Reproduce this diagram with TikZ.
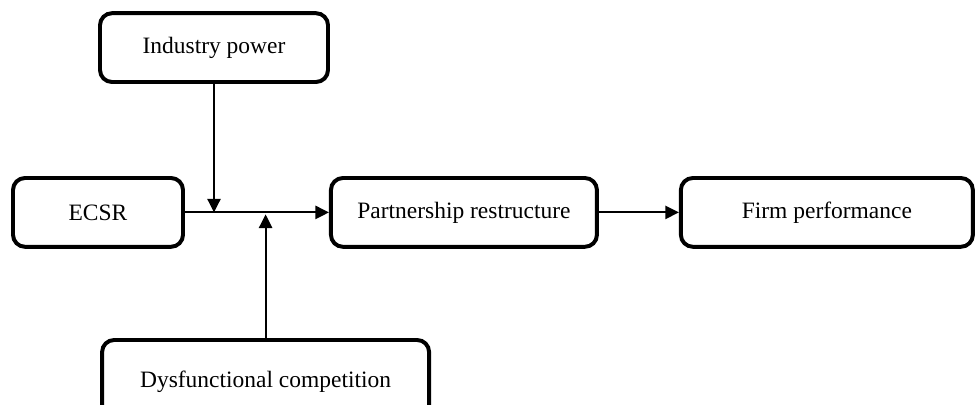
\documentclass[tikz,border=0pt]{standalone}
\usepackage{fontspec}
\setmainfont{Liberation Serif}
\usepackage{tikz}
\usetikzlibrary{arrows.meta,positioning}

\begin{document}
\begin{tikzpicture}[
        font=\fontsize{16.7}{20}\selectfont,
        >={Triangle[length=0.34cm,width=0.33cm]},
        block/.style={rectangle, draw, line width=2.8pt, rounded corners=0.3cm, minimum height=1.72cm, align=center, fill=white},
        link/.style={line width=1.4pt}
    ]
        \clip (0,0) rectangle (24.4,10.1);
        \node[block, minimum width=4.25cm] (ecsr) at (2.45,4.79) {ECSR};
        \node[block, minimum width=6.65cm, right=3.6cm of ecsr] (partner) {Partnership restructure};
        \node[block, minimum width=7.3cm, right=2cm of partner] (firm) {Firm performance};
        \node[block, minimum width=5.7cm] (industry) at (5.35,8.91) {Industry power};
        \node[block, minimum width=8.175cm, minimum height=2.1cm] (dysf) at (6.64,0.55) {Dysfunctional competition};
        \draw[link, ->] (ecsr) -- (partner);
        \draw[link, ->] (partner) -- (firm);
        \draw[link, ->] (industry.south) -- (industry.south |- ecsr.east);
        \draw[link, ->] (dysf.north) -- ([yshift=-0.05cm]dysf.north |- ecsr.east);
    \end{tikzpicture}
\end{document}
